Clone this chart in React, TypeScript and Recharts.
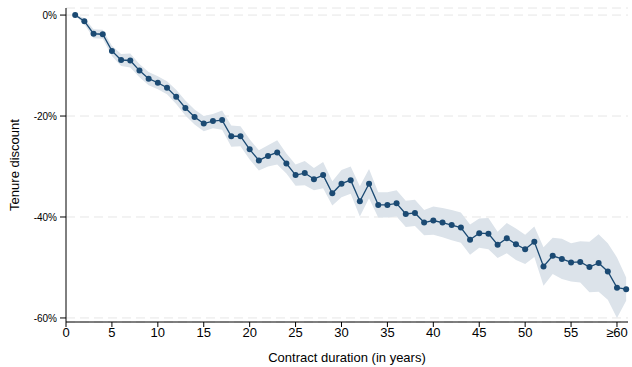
import React from 'react';
import { ComposedChart, Area, Line, XAxis, YAxis, CartesianGrid } from 'recharts';

// contract duration in years (61 = the last, open-ended bucket)
const years = [
    1, 2, 3, 4, 5, 6, 7, 8, 9, 10, 11, 12, 13, 14, 15, 16, 17, 18, 19, 20,
    21, 22, 23, 24, 25, 26, 27, 28, 29, 30, 31, 32, 33, 34, 35, 36, 37, 38, 39, 40,
    41, 42, 43, 44, 45, 46, 47, 48, 49, 50, 51, 52, 53, 54, 55, 56, 57, 58, 59, 60, 61,
];

// point estimates (%)
const discount = [
    0, -1.2, -3.7, -3.8, -7.1, -8.9, -9.0, -11.0, -12.6, -13.4, -14.4, -16.2, -18.4, -20.2, -21.5, -21.0, -20.8, -24.0, -24.0, -26.6,
    -28.8, -27.9, -27.2, -29.4, -31.7, -31.3, -32.5, -31.7, -35.3, -33.4, -32.7, -36.9, -33.4, -37.6, -37.6, -37.3, -39.4, -39.2, -41.1, -40.7,
    -41.1, -41.6, -42.1, -44.5, -43.2, -43.3, -45.5, -44.2, -45.4, -46.4, -44.9, -49.8, -47.7, -48.3, -49.0, -48.9, -49.9, -49.1, -50.8, -54.0, -54.3,
];

// confidence band
const upper = [
    0.1, -0.6, -2.8, -2.9, -6.1, -7.7, -7.6, -9.7, -11.3, -12.1, -13.1, -14.8, -16.9, -18.7, -20.0, -19.6, -18.9, -21.9, -22.0, -24.6,
    -26.8, -25.8, -24.8, -27.4, -29.6, -28.9, -30.3, -29.1, -32.9, -30.7, -30.0, -33.9, -30.5, -35.1, -35.1, -34.7, -36.8, -36.6, -38.6, -37.9,
    -38.2, -38.6, -39.1, -41.5, -40.3, -40.2, -42.9, -41.2, -42.3, -43.5, -41.9, -46.0, -44.1, -44.3, -45.2, -44.8, -44.9, -43.4, -45.2, -48.0, -52.0,
];
const lower = [
    -0.1, -1.8, -4.6, -4.7, -8.1, -10.1, -10.4, -12.3, -13.9, -14.7, -15.7, -17.6, -19.9, -21.7, -23.0, -22.4, -22.7, -26.1, -26.0, -28.6,
    -30.8, -30.0, -29.6, -31.4, -33.8, -33.7, -34.7, -34.3, -37.7, -36.1, -35.4, -39.9, -36.3, -40.1, -40.1, -39.9, -42.0, -41.8, -43.6, -43.5,
    -44.0, -44.6, -45.1, -47.5, -46.1, -46.4, -48.1, -47.2, -48.5, -49.3, -47.9, -53.6, -51.3, -52.3, -52.8, -53.0, -54.9, -54.8, -56.4, -60.0, -56.6,
];

const xTicks = [0, 5, 10, 15, 20, 25, 30, 35, 40, 45, 50, 55, 60];
const yTicks = [0, -20, -40, -60];

const navy = '#1b4a73';
const font = 'Arial, "Liberation Sans", sans-serif';

const data = years.map((y, i) => ({
    year: y,
    value: discount[i],
    band: [lower[i], upper[i]],
}));

const App: React.FC = () => {
    return (
        <div style={{ position: 'absolute', left: 0, top: 0, width: 632, height: 367, background: '#fff' }}>
            <ComposedChart
                width={632}
                height={367}
                data={data}
                margin={{ top: 8, right: 4, left: 0, bottom: 0 }}
                style={{ fontFamily: font }}
            >
                <CartesianGrid vertical={false} stroke="#e6e6e6" strokeDasharray="9 5" />
                <XAxis
                    dataKey="year"
                    type="number"
                    domain={[0, 61.2]}
                    ticks={xTicks}
                    interval={0}
                    tickFormatter={(v: number) => (v === 60 ? '≥60' : String(v))}
                    height={45}
                    stroke="#000"
                    tickSize={5}
                    tickMargin={1}
                    tick={{ fontSize: 13, fill: '#000' }}
                    label={{ value: 'Contract duration (in years)', position: 'insideBottom', offset: 5, fontSize: 13, fill: '#000' }}
                />
                <YAxis
                    type="number"
                    domain={[-60.8, 1.4]}
                    ticks={yTicks}
                    interval={0}
                    allowDataOverflow
                    tickFormatter={(v: number) => `${v}%`}
                    width={66}
                    stroke="#000"
                    tickSize={6}
                    tickMargin={3}
                    tick={{ fontSize: 10, fill: '#000' }}
                    label={{ value: 'Tenure discount', angle: -90, position: 'center', dx: -19, fontSize: 13, fill: '#000' }}
                />
                <Area
                    dataKey="band"
                    type="linear"
                    stroke="none"
                    fill="#dce3ea"
                    fillOpacity={1}
                    isAnimationActive={false}
                    activeDot={false}
                />
                <Line
                    dataKey="value"
                    type="linear"
                    stroke={navy}
                    strokeWidth={1.3}
                    dot={{ r: 3, fill: navy, stroke: 'none' }}
                    activeDot={false}
                    isAnimationActive={false}
                />
            </ComposedChart>
        </div>
    );
};

export default App;
